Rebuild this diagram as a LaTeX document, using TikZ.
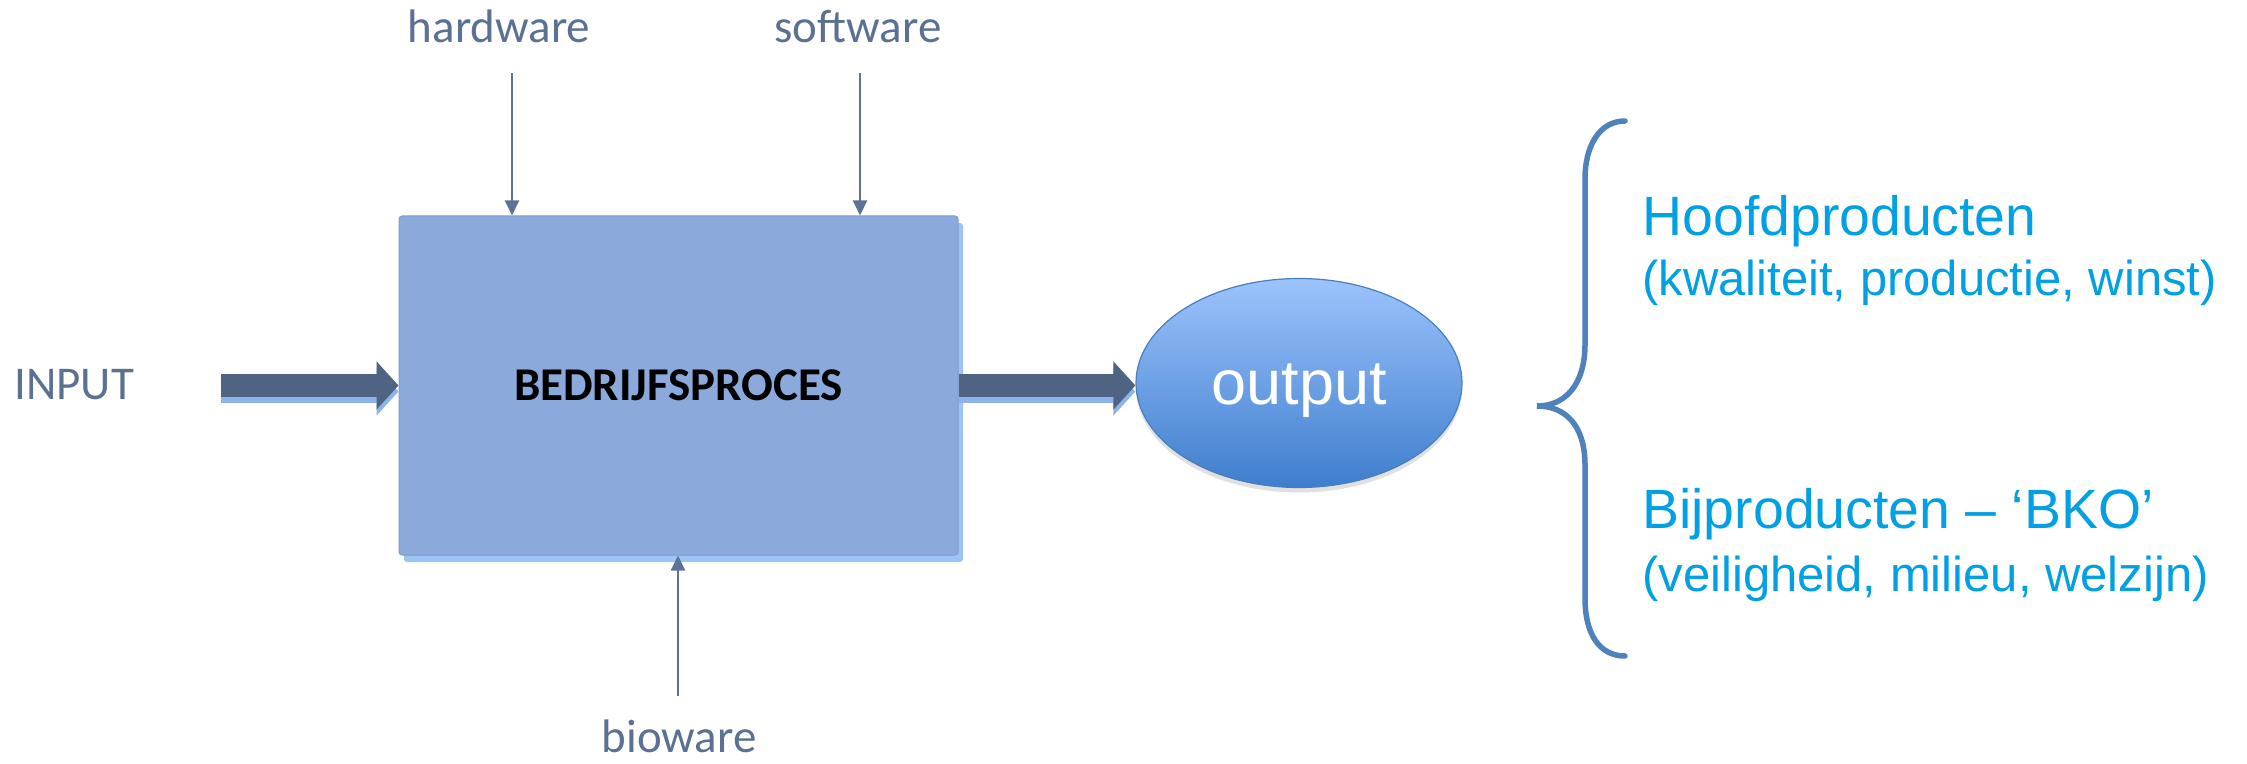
\documentclass[tikz,border=0pt]{standalone}
\usepackage{fontspec}
\setmainfont{Carlito}
\newfontfamily\arialfont{Liberation Sans}
\usetikzlibrary{arrows.meta,shapes.geometric,shadows,calc}

\definecolor{boxfill}{HTML}{8BAADB}
\definecolor{boxedge}{HTML}{7F9DD2}
\definecolor{boxglow}{HTML}{9EC3F7}
\definecolor{slate}{HTML}{4F6482}
\definecolor{slatetext}{HTML}{5A7194}
\definecolor{thinline}{HTML}{5B7399}
\definecolor{glowblue}{HTML}{8DB3EC}
\definecolor{ovaltop}{HTML}{9CC3FC}
\definecolor{ovalbot}{HTML}{3E7ECE}
\definecolor{ovaledge}{HTML}{4A7EBB}
\definecolor{cyantext}{HTML}{00A0E3}
\definecolor{bracecol}{HTML}{4F81BD}

\begin{document}
\begin{tikzpicture}[x=0.5pt,y=-0.5pt,
  lbl/.style={text=slatetext, font=\fontsize{23.5}{28}\selectfont, inner sep=0pt},
  feed/.style={draw=thinline, line width=1pt, -{Triangle[length=7.5pt,width=7pt]}},
  flow/.style={draw=slate, line width=11.5pt, -{Triangle[length=11pt,width=23.5pt]}},
  flowglow/.style={draw=glowblue, line width=11.5pt, -{Triangle[length=11pt,width=23.5pt]}, transform canvas={yshift=-3pt}},
  product/.style={anchor=base west, text=cyantext, inner sep=0pt, font=\arialfont\fontsize{27.7}{33}\selectfont},
  detail/.style={anchor=base west, text=cyantext, inner sep=0pt, font=\arialfont\fontsize{24.5}{29}\selectfont},
]
\useasboundingbox (0,0) rectangle (2247,764);

% the process block
\node[draw=boxedge, line width=0.5pt, fill=boxfill, rounded corners=1.5pt,
      minimum width=279.5pt, minimum height=169.5pt, inner sep=0pt,
      drop shadow={shadow xshift=2.5pt, shadow yshift=-3.5pt, fill=boxglow, opacity=1},
      font=\bfseries\fontsize{23.5}{28}\selectfont] (proc) at (678.5,385.5) {BEDRIJFSPROCES};

% the output oval
\node[ellipse, draw=ovaledge, line width=0.6pt, top color=ovaltop, bottom color=ovalbot,
      minimum width=163pt, minimum height=104.5pt, inner sep=0pt,
      drop shadow={shadow xshift=0pt, shadow yshift=-2.5pt, fill=black, opacity=0.12},
      text=white, font=\arialfont\fontsize{31.5}{38}\selectfont,
      text height=21pt, text depth=0pt] (outp) at (1299,383) {output};

% labels around the block
\node[lbl, anchor=base west] (inlbl) at (14,400) {INPUT};
\node[lbl, anchor=base] (hw) at (499,43) {hardware};
\node[lbl, anchor=base] (sw) at (858,43) {software};
\node[lbl, anchor=base] (bw) at (679,752) {bioware};

% thick flow arrows
\coordinate (instart) at (221,385.5);
\draw[flowglow] (instart) -- (proc.west);
\draw[flow] (instart) -- (proc.west);
\draw[flowglow] (proc.east) -- (proc.east -| outp.west);
\draw[flow] (proc.east) -- (proc.east -| outp.west);

% thin feed arrows
\coordinate (hwtail) at (512,73);
\coordinate (swtail) at (860,73);
\coordinate (bwtail) at (678,696);
\draw[feed] (hwtail) -- (hwtail |- proc.north);
\draw[feed] (swtail) -- (swtail |- proc.north);
\draw[feed] (bwtail) -- (bwtail |- proc.south);

% brace
\draw[bracecol, line width=2.75pt, line cap=round]
  (1625,121) .. controls (1600,121) and (1585,145) .. (1585,179)
  -- (1585,344) .. controls (1585,385) and (1565,406) .. (1537,406)
  .. controls (1565,406) and (1585,425) .. (1585,465)
  -- (1585,598) .. controls (1585,635) and (1600,656) .. (1625,656);

% products
\node[product] (mainp) at (1642,236) {Hoofdproducten};
\node[detail] (maind) at (1642,296) {(kwaliteit, productie, winst)};
\node[product] (sidep) at (1642,528) {Bijproducten – ‘BKO’};
\node[detail] (sided) at (1642,591) {(veiligheid, milieu, welzijn)};
\end{tikzpicture}
\end{document}
